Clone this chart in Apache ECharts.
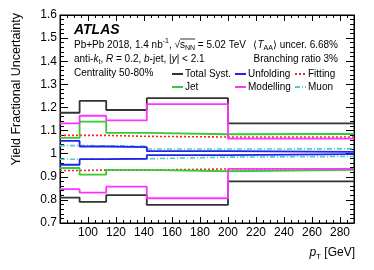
<!DOCTYPE html>
<html>
<head>
<meta charset="utf-8">
<script src="https://cdn.jsdelivr.net/npm/echarts@6/dist/echarts.min.js"></script>
<style>html,body{margin:0;padding:0;background:#fff}#c{width:374px;height:270px}</style>
</head>
<body>
<div id="c"></div>
<script>
// bin edges in pT [GeV]
const binEdges = [80, 94, 113, 142, 200, 290];
// fractional uncertainty bands (upper / lower) per bin
const totalUp = [1.177, 1.228, 1.189, 1.240, 1.131];
const totalDn = [0.810, 0.791, 0.821, 0.778, 0.880];
const jetUp   = [1.068, 1.139, 1.090, 1.084, 1.085];
const jetDn   = [0.938, 0.909, 0.930, 0.924, 0.930];
const unfUp   = [1.055, 1.031, 1.028, 1.011, 1.008];
const unfDn   = [0.952, 0.976, 0.978, 0.994, 0.998];
const modUp   = [1.131, 1.164, 1.144, 1.214, 1.065];
const modDn   = [0.847, 0.831, 0.857, 0.807, 0.934];
const fitUp   = [1.079, 1.079, 1.075, 1.072, 1.072];
const fitDn   = [0.927, 0.929, 0.929, 0.934, 0.934];
const muUp    = [1.035, 1.034, 1.033, 1.020, 1.021];
const muDn    = [0.976, 0.977, 0.978, 0.985, 0.988];
const xTicks = [100, 120, 140, 160, 180, 200, 220, 240, 260, 280];
const yTicks = [0.7, 0.8, 0.9, 1, 1.1, 1.2, 1.3, 1.4, 1.5, 1.6];

const FONT = '"Liberation Sans", Arial, Helvetica, sans-serif';
const FS = 10;

function steps(vals) {
  return binEdges.map((e, i) => [e, vals[Math.min(i, vals.length - 1)]]);
}
function mk(name, vals, color, type, w) {
  return {
    name: name, type: 'line', step: 'end', data: steps(vals),
    symbol: 'none', silent: true, animation: false,
    lineStyle: { color: color, width: w || 1.8, type: type || 'solid' },
    itemStyle: { color: color }
  };
}
const C = { total: '#333333', jet: '#33cc33', unf: '#2222ee', mod: '#ff33ff', fit: '#ff2222', mu: '#55cccc' };

const series = [
  mk('Muon', muUp, C.mu, [5, 2, 1, 2], 1.6), mk('Muon', muDn, C.mu, [5, 2, 1, 2], 1.6),
  mk('Fitting', fitUp, C.fit, [2, 2], 1.6), mk('Fitting', fitDn, C.fit, [2, 2], 1.6),
  mk('Total Syst.', totalUp, C.total), mk('Total Syst.', totalDn, C.total),
  mk('Jet', jetUp, C.jet), mk('Jet', jetDn, C.jet),
  mk('Unfolding', unfUp, C.unf), mk('Unfolding', unfDn, C.unf),
  mk('Modelling', modUp, C.mod), mk('Modelling', modDn, C.mod)
];

const axisBase = {
  axisLine: { lineStyle: { color: '#000', width: 1 } },
  splitLine: { show: false }
};
function legendCol(names, left) {
  return {
    data: names, orient: 'vertical', left: left, top: 67.5,
    itemWidth: 11, itemHeight: 6, itemGap: 0, selectedMode: false,
    itemStyle: { opacity: 0 },
    textStyle: { fontFamily: FONT, fontSize: FS, color: '#000', lineHeight: 13, padding: [0, 0, 0, -3] },
    padding: 0
  };
}

// text measuring for overline placement
const ctx = document.createElement('canvas').getContext('2d');
function tw(str, size, style) { ctx.font = (style || '') + ' ' + size + 'px ' + FONT; return ctx.measureText(str).width; }
const line1X = 74, line1Y = 45;
const olStart = line1X + tw('Pb+Pb 2018, 1.4 nb', FS) + tw('-1', 7) + tw(', √', FS);
const olEnd = olStart + tw('s', FS) + tw('NN', 7);

const chart = echarts.init(document.getElementById('c'), null, { renderer: 'canvas' });
chart.setOption({
  animation: false,
  backgroundColor: '#fff',
  grid: { left: 60, right: 20, top: 15, bottom: 47, show: true, borderColor: '#000', borderWidth: 1, backgroundColor: 'transparent' },
  xAxis: [
    Object.assign({}, axisBase, {
      type: 'value', min: 80, max: 290, interval: 20,
      axisTick: { inside: true, length: 6, lineStyle: { color: '#000' } },
      minorTick: { show: true, splitNumber: 4, length: 3, lineStyle: { color: '#000' } },
      axisLabel: { fontFamily: FONT, fontSize: 12, color: '#000', margin: 4,
        formatter: v => (xTicks.indexOf(v) >= 0 ? String(v) : '') }
    }),
    Object.assign({}, axisBase, {
      type: 'value', min: 80, max: 290, interval: 20, position: 'top',
      axisTick: { inside: true, length: 6, lineStyle: { color: '#000' } },
      minorTick: { show: true, splitNumber: 4, length: 3, lineStyle: { color: '#000' } },
      axisLabel: { show: false }
    })
  ],
  yAxis: [
    Object.assign({}, axisBase, {
      type: 'value', min: 0.7, max: 1.6, interval: 0.1,
      axisTick: { inside: true, length: 8, lineStyle: { color: '#000' } },
      minorTick: { show: true, splitNumber: 5, length: 4, lineStyle: { color: '#000' } },
      axisLabel: { fontFamily: FONT, fontSize: 12, color: '#000', margin: 3,
        formatter: v => { const r = +v.toFixed(1); return yTicks.indexOf(r) >= 0 ? String(r) : ''; } }
    }),
    Object.assign({}, axisBase, {
      type: 'value', min: 0.7, max: 1.6, interval: 0.1, position: 'right',
      axisTick: { inside: true, length: 8, lineStyle: { color: '#000' } },
      minorTick: { show: true, splitNumber: 5, length: 4, lineStyle: { color: '#000' } },
      axisLabel: { show: false }
    })
  ],
  legend: [
    legendCol(['Total Syst.', 'Jet'], 171),
    legendCol(['Unfolding', 'Modelling'], 234),
    legendCol(['Fitting', 'Muon'], 294)
  ],
  series: series,
  graphic: [
    { type: 'text', left: 74, top: 23, style: { text: 'ATLAS', font: 'italic bold 14px ' + FONT, fill: '#000' } },
    { type: 'text', x: line1X, y: line1Y, style: {
      text: '{n|Pb+Pb 2018, 1.4 nb}{sup|-1}{n|, √}{n|s}{sub|NN}{n| = 5.02 TeV}',
      textVerticalAlign: 'middle', fill: '#000',
      rich: {
        n: { fontFamily: FONT, fontSize: FS, lineHeight: 14, verticalAlign: 'middle' },
        sup: { fontFamily: FONT, fontSize: 7, lineHeight: 14, verticalAlign: 'top' },
        sub: { fontFamily: FONT, fontSize: 7, lineHeight: 14, verticalAlign: 'bottom' }
      } } },
    { type: 'line', shape: { x1: olStart, y1: line1Y - 6, x2: olEnd, y2: line1Y - 6 }, style: { stroke: '#000', lineWidth: 0.8 } },
    { type: 'text', x: 338, y: 45, style: {
      text: '{n|⟨}{i|T}{sub|AA}{n|⟩ uncer. 6.68%}',
      textAlign: 'right', textVerticalAlign: 'middle', fill: '#000',
      rich: {
        n: { fontFamily: FONT, fontSize: FS, lineHeight: 14, verticalAlign: 'middle' },
        i: { fontFamily: FONT, fontStyle: 'italic', fontSize: FS, lineHeight: 14, verticalAlign: 'middle' },
        sub: { fontFamily: FONT, fontSize: 7, lineHeight: 14, verticalAlign: 'bottom' }
      } } },
    { type: 'text', x: 74, y: 59, style: {
      text: '{n|anti-}{i|k}{sub|t}{n|, }{i|R}{n| = 0.2, }{i|b}{n|-jet, |}{i|y}{n|| < 2.1}',
      textVerticalAlign: 'middle', fill: '#000',
      rich: {
        n: { fontFamily: FONT, fontSize: FS, lineHeight: 14, verticalAlign: 'middle' },
        i: { fontFamily: FONT, fontStyle: 'italic', fontSize: FS, lineHeight: 14, verticalAlign: 'middle' },
        sub: { fontFamily: FONT, fontSize: 7, lineHeight: 14, verticalAlign: 'bottom' }
      } } },
    { type: 'text', x: 338, y: 59, style: { text: 'Branching ratio 3%', textAlign: 'right', textVerticalAlign: 'middle',
      font: FS + 'px ' + FONT, fill: '#000' } },
    { type: 'text', x: 74, y: 73, style: { text: 'Centrality 50-80%', textVerticalAlign: 'middle',
      font: FS + 'px ' + FONT, fill: '#000' } },
    { type: 'text', x: 17, y: 13, rotation: Math.PI / 2, style: { text: 'Yield Fractional Uncertainty',
      textAlign: 'right', textVerticalAlign: 'middle', font: '12.5px ' + FONT, fill: '#000' } },
    { type: 'text', x: 355, y: 253, style: {
      text: '{i|p}{sub|T}{n| [GeV]}', textAlign: 'right', textVerticalAlign: 'middle', fill: '#000',
      rich: {
        n: { fontFamily: FONT, fontSize: 12, lineHeight: 16, verticalAlign: 'middle' },
        i: { fontFamily: FONT, fontStyle: 'italic', fontSize: 12, lineHeight: 16, verticalAlign: 'middle' },
        sub: { fontFamily: FONT, fontSize: 8, lineHeight: 16, verticalAlign: 'bottom' }
      } } }
  ]
});
</script>
</body>
</html>
